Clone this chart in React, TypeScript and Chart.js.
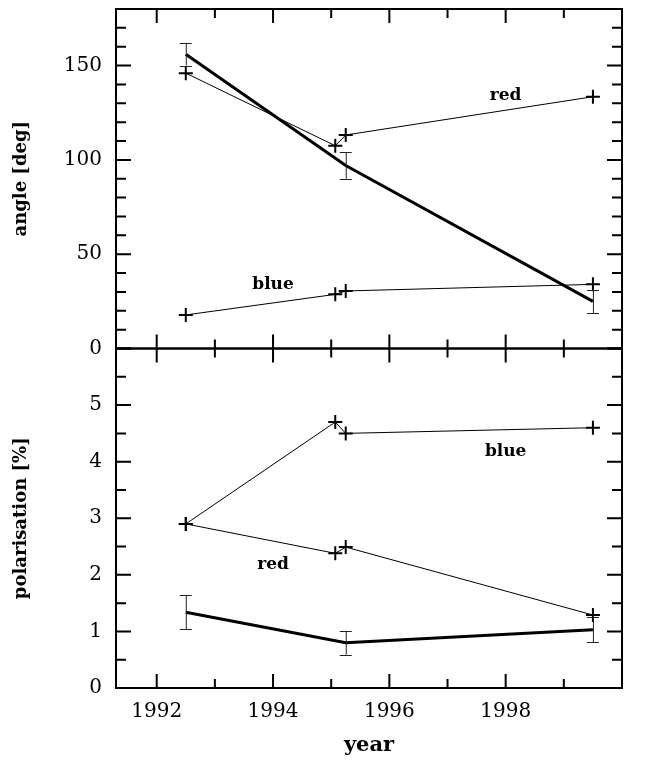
import { useEffect, useRef } from 'react';
import { Chart, registerables } from 'chart.js';

Chart.register(...registerables);

// ---- data ----
const epochs = [1992.5, 1995.07, 1995.25, 1999.5];
const totalEpochs = [1992.5, 1995.25, 1999.5];

const angleRed = [146, 107.5, 113.2, 133.5];
const angleBlue = [17.8, 28.7, 30.5, 34];
const angleTotal = [156, 97, 25];
const angleTotalErr = [6, 7, 6.2];

const polBlue = [2.9, 4.7, 4.5, 4.6];
const polRed = [2.9, 2.38, 2.49, 1.29];
const polTotal = [1.34, 0.8, 1.03];
const polTotalErr = [0.3, 0.21, 0.22];

const yearTicks = [1992, 1994, 1996, 1998];
const angleTicks = [0, 50, 100, 150];
const polTicks = [0, 1, 2, 3, 4, 5];

const labelTexts = ['red', 'blue', 'blue', 'red'];
const labelYears = [1998, 1994, 1998, 1994];
const labelValues = [134, 34, 4.18, 2.18];
const labelAxes = ['yA', 'yA', 'yP', 'yP'];

const SERIF = "'DejaVu Serif', 'Liberation Serif', serif";

const pts = (xs: number[], ys: number[]) => xs.map((x, i) => ({ x, y: ys[i] }));

const thin = (data: any[], axis: string) => ({
  data,
  yAxisID: axis,
  borderColor: '#000',
  borderWidth: 1,
  pointStyle: 'cross',
  pointRadius: 7,
  pointBorderWidth: 2,
  pointBorderColor: '#000',
  pointBackgroundColor: '#000',
  fill: false,
  tension: 0,
});

const thick = (data: any[], axis: string) => ({
  data,
  yAxisID: axis,
  borderColor: '#000',
  borderWidth: 3,
  pointRadius: 0,
  fill: false,
  tension: 0,
});

const framePlugin = {
  id: 'frameTicks',
  afterDatasetsDraw(chart: any) {
    const { ctx } = chart;
    const xs = chart.scales.x;
    const panels = [
      { s: chart.scales.yA, major: 50, minor: 10, vals: angleTotal, errs: angleTotalErr },
      { s: chart.scales.yP, major: 1, minor: 0.5, vals: polTotal, errs: polTotalErr },
    ];
    const left = xs.left;
    const right = xs.right;
    ctx.save();
    ctx.strokeStyle = '#000';
    ctx.lineCap = 'butt';
    panels.forEach(({ s, major, minor, vals, errs }) => {
      const top = s.top;
      const bottom = s.bottom;
      // error bars
      ctx.lineWidth = 1;
      ctx.strokeStyle = '#222';
      totalEpochs.forEach((e, i) => {
        const px = xs.getPixelForValue(e);
        const y1 = s.getPixelForValue(vals[i] + errs[i]);
        const y2 = s.getPixelForValue(vals[i] - errs[i]);
        ctx.beginPath();
        ctx.moveTo(px + 0.5, y1);
        ctx.lineTo(px + 0.5, y2);
        ctx.moveTo(px - 6, Math.round(y1) + 0.5);
        ctx.lineTo(px + 6, Math.round(y1) + 0.5);
        ctx.moveTo(px - 6, Math.round(y2) + 0.5);
        ctx.lineTo(px + 6, Math.round(y2) + 0.5);
        ctx.stroke();
      });
      ctx.strokeStyle = '#000';
      ctx.lineWidth = 2;
      ctx.strokeRect(left, top, right - left, bottom - top);
      // y ticks
      for (let v = s.min; v <= s.max + 1e-9; v += minor) {
        const isMajor = Math.abs(v / major - Math.round(v / major)) < 1e-6;
        const len = isMajor ? 15 : 10;
        const py = s.getPixelForValue(v);
        ctx.beginPath();
        ctx.moveTo(left, py);
        ctx.lineTo(left + len, py);
        ctx.moveTo(right, py);
        ctx.lineTo(right - len, py);
        ctx.stroke();
      }
      // x ticks
      for (let yr = Math.ceil(xs.min); yr <= xs.max; yr++) {
        const isMajor = yr % 2 === 0;
        const len = isMajor ? 14 : 9;
        const px = xs.getPixelForValue(yr);
        ctx.beginPath();
        ctx.moveTo(px, top);
        ctx.lineTo(px, top + len);
        ctx.moveTo(px, bottom);
        ctx.lineTo(px, bottom - len);
        ctx.stroke();
      }
    });
    // labels
    ctx.fillStyle = '#000';
    ctx.font = `bold 17px ${SERIF}`;
    ctx.textAlign = 'center';
    ctx.textBaseline = 'middle';
    labelTexts.forEach((t, i) => {
      const s = chart.scales[labelAxes[i]];
      ctx.fillText(t, xs.getPixelForValue(labelYears[i]), s.getPixelForValue(labelValues[i]));
    });
    ctx.restore();
  },
};

const noPad = (s: any) => {
  s.paddingTop = 0;
  s.paddingBottom = 0;
  s.paddingLeft = 0;
  s.paddingRight = 0;
};

const yScale = (min: number, max: number, ticks: number[], title: string, weight: number) => ({
  type: 'linear',
  position: 'left',
  stack: 'panels',
  stackWeight: 1,
  weight,
  min,
  max,
  afterBuildTicks: (s: any) => {
    s.ticks = ticks.map((v) => ({ value: v }));
  },
  afterFit: (s: any) => {
    s.width = 116;
    noPad(s);
  },
  grid: { display: false, drawTicks: false },
  border: { display: false },
  ticks: {
    color: '#000',
    padding: 14,
    font: { family: SERIF, size: 20 },
  },
  title: {
    display: true,
    text: title,
    color: '#000',
    font: { family: SERIF, size: 18, weight: 'bold' },
    padding: { top: 11, bottom: 0 },
  },
});

export default function App() {
  const ref = useRef<HTMLCanvasElement | null>(null);
  useEffect(() => {
    if (!ref.current) return;
    const chart = new Chart(ref.current, {
      type: 'line',
      data: {
        datasets: [
          thin(pts(epochs, angleRed), 'yA'),
          thin(pts(epochs, angleBlue), 'yA'),
          thick(pts(totalEpochs, angleTotal), 'yA'),
          thin(pts(epochs, polBlue), 'yP'),
          thin(pts(epochs, polRed), 'yP'),
          thick(pts(totalEpochs, polTotal), 'yP'),
        ] as any,
      },
      options: {
        animation: false,
        responsive: false,
        maintainAspectRatio: false,
        layout: { padding: { left: 0, top: 5, right: 24, bottom: 0 } },
        plugins: { legend: { display: false }, tooltip: { enabled: false } },
        scales: {
          x: {
            type: 'linear',
            min: 1991.3,
            max: 2000,
            afterBuildTicks: (s: any) => {
              s.ticks = yearTicks.map((v) => ({ value: v }));
            },
            afterFit: (s: any) => {
              s.height = 72;
              noPad(s);
            },
            grid: { display: false, drawTicks: false },
            border: { display: false },
            ticks: {
              color: '#000',
              padding: 12,
              maxRotation: 0,
              autoSkip: false,
              font: { family: SERIF, size: 20 },
              callback: (v: any) => String(v),
            },
            title: {
              display: true,
              text: 'year',
              color: '#000',
              font: { family: SERIF, size: 21, weight: 'bold' },
              padding: { top: 0, bottom: 2 },
            },
          },
          yA: yScale(0, 180, angleTicks, 'angle [deg]', 2),
          yP: yScale(0, 6, polTicks, 'polarisation [%]', 1),
        } as any,
      },
      plugins: [framePlugin],
    });
    return () => chart.destroy();
  }, []);
  return (
    <div style={{ position: 'absolute', left: 0, top: 0, width: 646, height: 760, background: '#fff' }}>
      <canvas ref={ref} width={646} height={760} style={{ display: 'block', width: 646, height: 760 }} />
    </div>
  );
}
